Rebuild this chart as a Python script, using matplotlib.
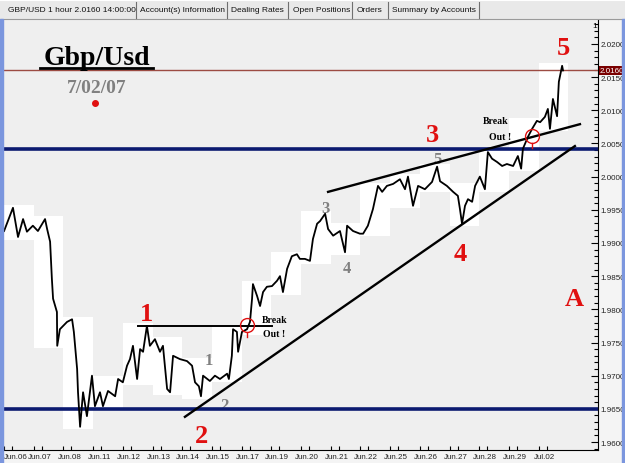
import matplotlib
matplotlib.use("Agg")
import matplotlib.pyplot as plt
from matplotlib.patches import Rectangle
from matplotlib.lines import Line2D
from matplotlib.ticker import MultipleLocator
from matplotlib.transforms import ScaledTranslation
import numpy as np

# ---------------- data ----------------
day_labels = ["Jun.06", "Jun.07", "Jun.08", "Jun.11", "Jun.12", "Jun.13", "Jun.14",
              "Jun.15", "Jun.17", "Jun.19", "Jun.20", "Jun.21", "Jun.22", "Jun.25",
              "Jun.26", "Jun.27", "Jun.28", "Jun.29", "Jul.02"]
day_pos = list(range(len(day_labels)))

# time in trading-day units, price GBP/USD
t = [-0.20, 0.10, 0.27, 0.44, 0.57, 0.77, 0.94, 1.18, 1.25, 1.35, 1.41, 1.45, 1.58, 1.59,
     1.68, 1.92, 2.09, 2.15, 2.26, 2.29, 2.36, 2.46, 2.59, 2.76, 2.86, 3.03, 3.13, 3.30,
     3.54, 3.64, 3.80, 3.94, 4.04, 4.14, 4.28, 4.38, 4.48, 4.61, 4.71, 4.88, 5.05, 5.15,
     5.29, 5.39, 5.49, 5.72, 5.96, 6.13, 6.23, 6.36, 6.43, 6.50, 6.73, 6.90, 7.07, 7.31,
     7.37, 7.47, 7.51, 7.64, 7.68, 7.81, 7.98, 8.08, 8.15, 8.18, 8.32, 8.42, 8.52, 8.65,
     8.82, 8.99, 9.09, 9.19, 9.33, 9.49, 9.66, 9.76, 9.93, 10.10, 10.20, 10.34, 10.44,
     10.61, 10.71, 10.88, 11.11, 11.28, 11.35, 11.55, 11.78, 11.89, 12.05, 12.22, 12.39,
     12.53, 12.69, 12.90, 13.13, 13.30, 13.40, 13.57, 13.74, 13.97, 14.21, 14.38, 14.48,
     14.71, 14.92, 15.08, 15.15, 15.22, 15.32, 15.42, 15.56, 15.66, 15.82, 15.99, 16.09,
     16.23, 16.40, 16.57, 16.73, 16.94, 17.10, 17.21, 17.27, 17.44, 17.58, 17.74, 17.85,
     18.01, 18.11, 18.18, 18.28, 18.42, 18.48, 18.59, 18.62]
price = [1.9918, 1.9953, 1.9909, 1.9936, 1.9917, 1.9926, 1.9918, 1.9936, 1.9921, 1.9902,
         1.9846, 1.9816, 1.9796, 1.9745, 1.9770, 1.9781, 1.9785, 1.9766, 1.9710, 1.9675,
         1.9623, 1.9675, 1.9639, 1.9700, 1.9654, 1.9675, 1.9654, 1.9677, 1.9669, 1.9695,
         1.9690, 1.9715, 1.9725, 1.9745, 1.9695, 1.9740, 1.9736, 1.9775, 1.9745, 1.9755,
         1.9736, 1.9745, 1.9680, 1.9675, 1.9730, 1.9725, 1.9722, 1.9715, 1.9690, 1.9684,
         1.9669, 1.9700, 1.9692, 1.9700, 1.9695, 1.9703, 1.9695, 1.9730, 1.9770, 1.9766,
         1.9736, 1.9766, 1.9770, 1.9781, 1.9816, 1.9838, 1.9820, 1.9805, 1.9826, 1.9834,
         1.9835, 1.9843, 1.9850, 1.9826, 1.9861, 1.9880, 1.9883, 1.9876, 1.9876, 1.9873,
         1.9906, 1.9929, 1.9933, 1.9944, 1.9921, 1.9911, 1.9918, 1.9886, 1.9926, 1.9918,
         1.9914, 1.9914, 1.9926, 1.9951, 1.9986, 1.9977, 1.9986, 1.9989, 1.9996, 1.9981,
         2.0000, 1.9956, 1.9986, 1.9981, 1.9992, 2.0015, 1.9993, 1.9986, 1.9977, 1.9971,
         1.9951, 1.9929, 1.9956, 1.9966, 1.9962, 1.9986, 2.0000, 1.9981, 2.0037, 2.0027,
         2.0022, 2.0016, 2.0019, 2.0016, 2.0031, 2.0012, 2.0042, 2.0060, 2.0072, 2.0084,
         2.0082, 2.0090, 2.0102, 2.0072, 2.0117, 2.0091, 2.0143, 2.0167, 2.0160]

y_ticks = [1.9600, 1.9650, 1.9700, 1.9750, 1.9800, 1.9850, 1.9900, 1.9950,
           2.0000, 2.0050, 2.0100, 2.0150, 2.0200]
last_price = 2.0160
support_levels = [2.0041, 1.9650]

flat_line_x, flat_line_y = [4.31, 8.82], [1.9775, 1.9775]
up_line_x, up_line_y = [5.89, 19.02], [1.9638, 2.0046]
top_line_x, top_line_y = [10.71, 19.19], [1.9977, 2.0079]

red_labels = ["1", "2", "3", "4", "5", "A"]
red_x = [4.61, 6.46, 14.24, 15.15, 18.65, 18.99]
red_y = [1.9784, 1.9600, 2.0054, 1.9874, 2.0185, 1.9807]

grey_labels = ["1", "2", "3", "4", "5"]
grey_x = [6.70, 7.21, 10.61, 11.35, 14.38]
grey_y = [1.9718, 1.9650, 1.9947, 1.9856, 2.0021]

break_x = [7.98, 17.58]
break_y = [1.9776, 2.0061]
break_text_x = [8.48, 15.93]
break_text_y = [1.9785, 2.0084]
out_text_x = [8.52, 16.13]
out_text_y = [1.9763, 2.0061]

tabs = ["GBP/USD 1 hour 2.0160 14:00:00", "Account(s) Information", "Dealing Rates",
        "Open Positions", "Orders", "Summary by Accounts"]

# ---------------- figure ----------------
W, H = 625, 464
fig = plt.figure(figsize=(W / 100, H / 100), dpi=100, facecolor="#f4f4f4")
ax = fig.add_axes([4 / W, 13 / H, 594 / W, 430 / H])
ax.set_facecolor("#efefef")
ax.set_xlim(-0.202, 19.798)
ax.set_ylim(1.9588, 2.0236)

serif = "Liberation Serif"
sans = "Liberation Sans"

# daily range boxes (white)
t_arr = np.array(t)
p_arr = np.array(price)
for k in day_pos:
    m = (t_arr >= k - 0.2) & (t_arr < k + 0.8)
    if m.any():
        lo, hi = p_arr[m].min(), p_arr[m].max()
        ax.bar(k + 0.3, hi - lo + 0.0008, bottom=lo - 0.0004, width=1.0,
               color="white", zorder=1, linewidth=0)

# support lines
for lvl in support_levels:
    ax.axhline(lvl, color="#0b1a70", lw=2.6, zorder=3)
ax.axhline(last_price, color="#9c4b42", lw=1.0, zorder=3)

# grey wave labels (under lines)
for s, x, y in zip(grey_labels, grey_x, grey_y):
    ax.text(x, y, s, color="#808080", fontsize=12, fontweight="bold", family=serif,
            ha="center", va="baseline", zorder=2)

# price
ax.plot(t, price, color="black", lw=1.3, zorder=4)

# trend lines
ax.plot(flat_line_x, flat_line_y, color="black", lw=1.4, zorder=5)
ax.plot(up_line_x, up_line_y, color="black", lw=1.7, zorder=5)
ax.plot(top_line_x, top_line_y, color="black", lw=1.7, zorder=5)

# breakout circles
for x, y in zip(break_x, break_y):
    ax.plot([x], [y], marker="o", ms=10, mfc="none", mec="#e01010", mew=1.0, zorder=6)
    ax.plot([x, x], [y - 0.0011, y - 0.0018], color="#e01010", lw=1.0, zorder=6)
for x, y in zip(break_text_x, break_text_y):
    ax.text(x, y, "Break", fontsize=7, fontweight="bold", family=serif,
            ha="left", va="center", zorder=6)
for x, y in zip(out_text_x, out_text_y):
    ax.text(x, y, "Out !", fontsize=7, fontweight="bold", family=serif,
            ha="left", va="center", zorder=6)

# red wave labels
for s, x, y in zip(red_labels, red_x, red_y):
    ax.text(x, y, s, color="#e01010", fontsize=19, fontweight="bold", family=serif,
            ha="center", va="baseline", zorder=6)

# title block
fig.text(97 / W, 1 - 65 / H, "Gbp/Usd", fontsize=20, fontweight="bold", family=serif,
         ha="center", va="baseline", color="black")
fig.add_artist(Line2D([40 / W, 153 / W], [1 - 69 / H, 1 - 69 / H], color="black", lw=2))
fig.text(97 / W, 1 - 93 / H, "7/02/07", fontsize=14, fontweight="bold", family=serif,
         ha="center", va="baseline", color="#808080")
ax.plot([2.86], [2.0111], marker="o", ms=4, color="#e01010", zorder=6)

# axes styling
for sp in ["top", "left"]:
    ax.spines[sp].set_visible(False)
for sp in ["bottom", "right"]:
    ax.spines[sp].set_color("black")
    ax.spines[sp].set_linewidth(0.8)

ax.yaxis.tick_right()
ax.set_yticks(y_ticks)
ax.set_yticklabels([f"{v:.4f}" for v in y_ticks])
ax.yaxis.set_minor_locator(MultipleLocator(0.001))
ax.tick_params(axis="y", which="major", direction="in", length=5, width=0.8,
               labelsize=5.8, pad=2, labelcolor="#222222")
ax.tick_params(axis="y", which="minor", direction="in", length=3, width=0.8)
for lab in ax.get_yticklabels():
    lab.set_family(sans)

ax.set_xticks(day_pos)
ax.set_xticklabels(day_labels)
ax.set_xticks([k - 0.2 for k in day_pos] + [k + 0.07 for k in day_pos], minor=True)
ax.tick_params(axis="x", which="major", length=0, labelsize=5.8, pad=2.5,
               labelcolor="#222222")
ax.tick_params(axis="x", which="minor", direction="in", length=3, width=0.8)
for lab in ax.get_xticklabels():
    lab.set_family(sans)
# keep the first date label clear of the window border
first_lab = ax.xaxis.get_major_ticks()[0].label1
first_lab.set_horizontalalignment("left")
first_lab.set_transform(first_lab.get_transform()
                        + ScaledTranslation(-6 / 100, 0, fig.dpi_scale_trans))

# last price box
ax.text(1.003, last_price, f"{last_price:.4f}", transform=ax.get_yaxis_transform(),
        fontsize=5.8, family=sans, color="white", ha="left", va="center",
        bbox=dict(boxstyle="square,pad=0.15", fc="#7a0000", ec="none"), zorder=10,
        clip_on=False)

# tab bar
fig.add_artist(Rectangle((0, 1 - 20 / H), 1, 20 / H, transform=fig.transFigure,
                         color="#e9e9e9", zorder=0))
fig.add_artist(Line2D([0, 1], [1 - 20 / H, 1 - 20 / H], color="#9a9a9a", lw=0.8))
fig.add_artist(Line2D([0, 1], [1 - 1 / H, 1 - 1 / H], color="#ffffff", lw=0.8))
tab_x = [8, 140, 231, 293, 357, 392]
sep_x = [136, 227, 288, 352, 388, 479]
for s, x in zip(tabs, tab_x):
    fig.text(x / W, 1 - 11 / H, s, fontsize=6, family=sans, ha="left", va="center",
             color="#111111")
for x in sep_x:
    fig.add_artist(Line2D([x / W, x / W], [1 - 19 / H, 1 - 3 / H], color="#707070", lw=0.8))
fig.text(595 / W, 1 - 27 / H, "1", fontsize=6, family=sans, ha="center", va="center")

# blue window borders
fig.add_artist(Rectangle((0, 0), 3 / W, 1 - 20 / H, transform=fig.transFigure,
                         color="#7b96de", zorder=5))
fig.add_artist(Rectangle((622 / W, 0), 3 / W, 1 - 20 / H, transform=fig.transFigure,
                         color="#7b96de", zorder=5))

fig.savefig("out.png", dpi=100, facecolor=fig.get_facecolor())
